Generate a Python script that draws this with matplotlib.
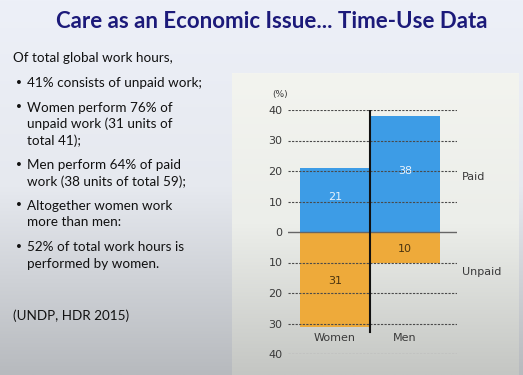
import numpy as np
import matplotlib
matplotlib.use('Agg')
import matplotlib.pyplot as plt
from matplotlib.colors import LinearSegmentedColormap

# dane z wykresu (UNDP, HDR 2015)
groups = ['Women', 'Men']
paid = [21, 38]
unpaid = [31, 10]
yticks = [-40, -30, -20, -10, 0, 10, 20, 30, 40]

title = 'Care as an Economic Issue... Time-Use Data'
intro = 'Of total global work hours,'
bullets = [
    '41% consists of unpaid work;',
    'Women perform 76% of\nunpaid work (31 units of\ntotal 41);',
    'Men perform 64% of paid\nwork (38 units of total 59);',
    'Altogether women work\nmore than men:',
    '52% of total work hours is\nperformed by women.',
]
source = '(UNDP, HDR 2015)'

W, H = 523, 375
fig = plt.figure(figsize=(W / 100, H / 100), dpi=100)

# tlo slajdu - gradient
bg = fig.add_axes([0, 0, 1, 1])
bg.set_axis_off()
cm_bg = LinearSegmentedColormap.from_list('bg', ['#edf0f8', '#e6e9ef', '#b7babe'])
grad = np.linspace(0, 1, 256).reshape(-1, 1)
bg.imshow(grad, aspect='auto', cmap=cm_bg, extent=[0, W, H, 0])
cm_panel = LinearSegmentedColormap.from_list('pn', ['#f3f4ef', '#eceeea', '#c4c6c3'])
bg.imshow(grad, aspect='auto', cmap=cm_panel, extent=[232, 519, H, 73])
bg.set_xlim(0, W)
bg.set_ylim(H, 0)

# tytul i tekst
txt_font = ['Lato', 'DejaVu Sans']
fs = 9.7
bg.text(272, 22, title, ha='center', va='center', fontsize=16,
        fontweight='bold', color='#1c1a7a', family=txt_font)
bg.text(13, 58, intro, ha='left', va='center', fontsize=fs,
        color='#111111', family=txt_font)
y = 83
for b in bullets:
    bg.text(15, y, '\u2022', ha='left', va='center', fontsize=fs, color='#111111')
    lines = b.split('\n')
    for j, ln in enumerate(lines):
        bg.text(27, y + j * 16.5, ln, ha='left', va='center', fontsize=fs,
                color='#111111', family=txt_font)
    y += 16.5 * len(lines) + 8
bg.text(13, 316, source, ha='left', va='center', fontsize=fs,
        color='#111111', family=txt_font)

# wykres
ax = fig.add_axes([288 / W, (H - 354) / H, 169 / W, 244 / H])
ax.patch.set_alpha(0)
x = np.arange(len(groups))
blue = '#3d9ce6'
orange = '#eeaa3a'
bp = ax.bar(x, paid, width=1.0, color=blue, zorder=2)
bu = ax.bar(x, [-v for v in unpaid], width=1.0, color=orange, zorder=2)

for yt in yticks:
    if yt == 0:
        ax.axhline(0, color='#666666', lw=1.0, zorder=3)
    else:
        ax.axhline(yt, color='#4a4a4a', lw=0.8, ls=(0, (2, 1.2)), zorder=3)

ax.plot([0.5, 0.5], [40.3, -32.7], color='#111111', lw=1.5, zorder=4)

for rect, v in zip(bp, paid):
    ax.text(rect.get_x() + rect.get_width() / 2, v / 2 + 1, str(v), ha='center',
            va='center', color='#e8f2fb', fontsize=8, zorder=5)
for rect, v in zip(bu, unpaid):
    ax.text(rect.get_x() + rect.get_width() / 2, -v / 2 - 0.5, str(v), ha='center',
            va='center', color='#4a3410', fontsize=8, zorder=5)

ax.set_xlim(-0.671, 1.743)
ax.set_ylim(-40, 40)
ax.set_yticks(yticks)
ax.set_yticklabels([str(abs(t)) for t in yticks])
ax.tick_params(axis='y', length=0, labelsize=8, labelcolor='#3a3a3a', pad=4)
ax.set_xticks([])
for s in ax.spines.values():
    s.set_visible(False)

for i, g in enumerate(groups):
    ax.text(i, -34.8, g, ha='center', va='center', fontsize=8, color='#3a3a3a')

ax.text(1.03, 18, 'Paid', transform=ax.get_yaxis_transform(), ha='left',
        va='center', fontsize=8, color='#3a3a3a')
ax.text(1.03, -13, 'Unpaid', transform=ax.get_yaxis_transform(), ha='left',
        va='center', fontsize=8, color='#3a3a3a')
ax.text(-0.047, 45, '(%)', transform=ax.get_yaxis_transform(), ha='center',
        va='center', fontsize=6.5, color='#3a3a3a', clip_on=False)

fig.savefig('out.png', dpi=100)
